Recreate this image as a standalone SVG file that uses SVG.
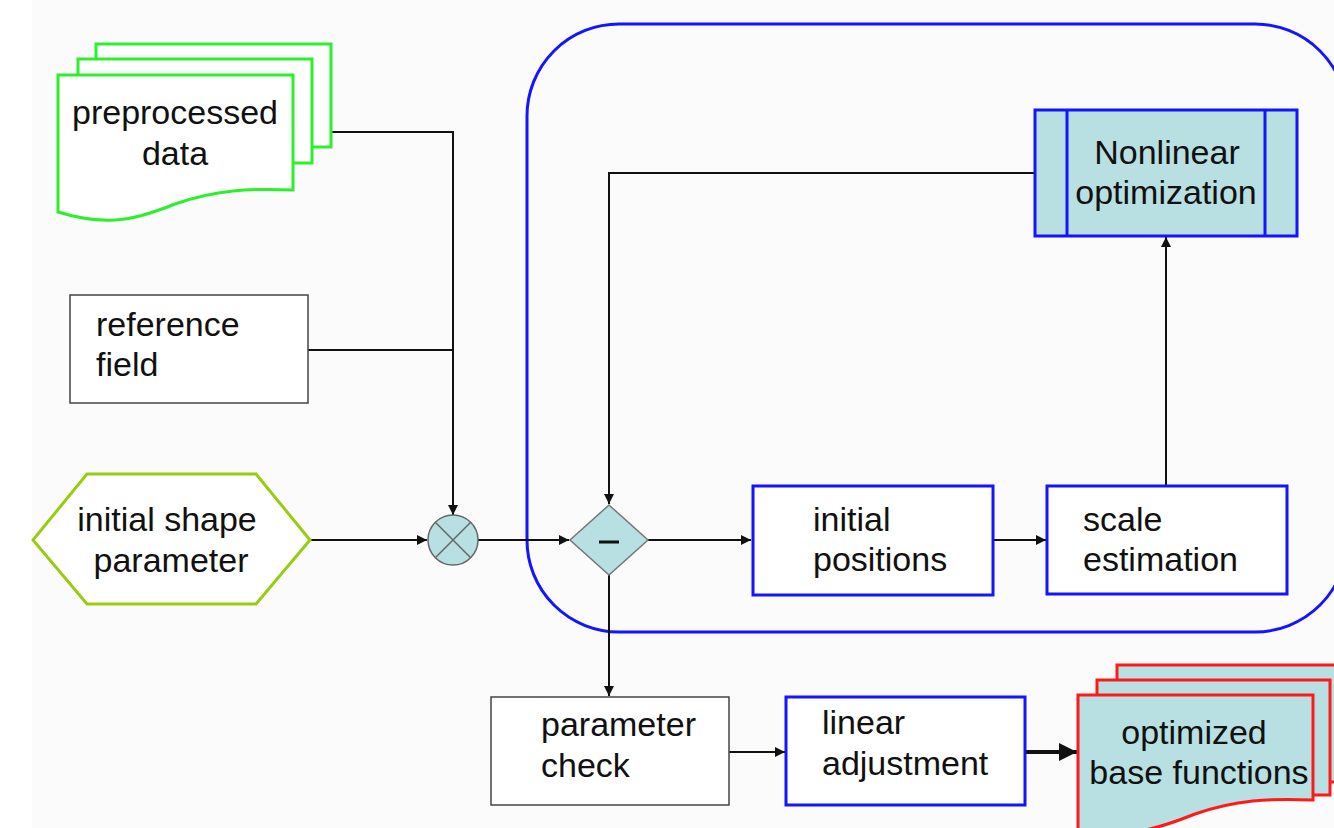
<svg xmlns="http://www.w3.org/2000/svg" width="1334" height="828" viewBox="0 0 1334 828">
<defs>
<style>
text{font-family:"Liberation Sans",Arial,sans-serif;font-size:34px;fill:#111}
.c{text-anchor:middle}
.ln{fill:none;stroke:#111;stroke-width:2}
.thick{fill:none;stroke:#111;stroke-width:4}
.blue{fill:#fff;stroke:#1414ff;stroke-width:3}
.grey{fill:#fff;stroke:#444;stroke-width:1.5}
.teal{fill:#b8dfe1}
.green{fill:#fff;stroke:#2cf02c;stroke-width:3}
.red{fill:#b8dfe1;stroke:#ff1a1a;stroke-width:3}
</style>
<marker id="ah" viewBox="0 0 10 10" refX="10" refY="5" markerWidth="11" markerHeight="10" markerUnits="userSpaceOnUse" orient="auto">
<path d="M0,0 L10,5 L0,10 Z" fill="#111"/>
</marker>
<marker id="ahb" viewBox="0 0 10 10" refX="10" refY="5" markerWidth="20" markerHeight="18" markerUnits="userSpaceOnUse" orient="auto">
<path d="M0,0 L10,5 L0,10 Z" fill="#111"/>
</marker>
</defs>
<rect x="0" y="0" width="1334" height="828" fill="#fff"/>
<rect x="32" y="0" width="1302" height="828" fill="#fbfbfb"/>

<g id="loop">
<rect x="527" y="24" width="820" height="608" rx="92" ry="92" fill="none" stroke="#1414ff" stroke-width="3"/>
</g>

<g id="connectors">
<polyline class="ln" points="331,132 453,132 453,515" marker-end="url(#ah)"/>
<line class="ln" x1="308" y1="350" x2="453" y2="350"/>
<line class="ln" x1="310" y1="540" x2="427" y2="540" marker-end="url(#ah)"/>
<line class="ln" x1="478" y1="540" x2="569" y2="540" marker-end="url(#ah)"/>
<polyline class="ln" points="1035,173 609,173 609,504" marker-end="url(#ah)"/>
<line class="ln" x1="648" y1="540" x2="751" y2="540" marker-end="url(#ah)"/>
<line class="ln" x1="993" y1="540" x2="1046" y2="540" marker-end="url(#ah)"/>
<line class="ln" x1="1166" y1="486" x2="1166" y2="237" marker-end="url(#ah)"/>
<line class="ln" x1="609" y1="575" x2="609" y2="696" marker-end="url(#ah)"/>
<line class="ln" x1="729" y1="752" x2="785" y2="752" marker-end="url(#ah)"/>
<line class="thick" x1="1025" y1="752" x2="1077" y2="752" marker-end="url(#ahb)"/>
</g>

<g id="preprocessed-data">
<path class="green" d="M96,44 H331 V147 H96 Z"/>
<path class="green" d="M78,59 H312 V163 H78 Z"/>
<path class="green" d="M58,75 H293 V190 C250,188 215,190 175,204 C140,218 110,228 58,212 Z"/>
<text class="c" x="175" y="124">preprocessed</text>
<text class="c" x="175" y="165">data</text>
</g>

<g id="reference-field">
<rect class="grey" x="70" y="295" width="238" height="108"/>
<text x="96" y="336">reference</text>
<text x="96" y="376">field</text>
</g>

<g id="initial-shape-parameter">
<polygon points="33,540 87,474 256,474 310,540 256,604 87,604" fill="#fff" stroke="#99cc11" stroke-width="3"/>
<text class="c" x="167" y="531">initial shape</text>
<text class="c" x="171" y="572">parameter</text>
</g>

<g id="combine">
<circle cx="453" cy="540" r="25" class="teal" stroke="#666" stroke-width="1.5"/>
<path d="M435.3,522.3 L470.7,557.7 M470.7,522.3 L435.3,557.7" stroke="#666" stroke-width="1.5"/>
</g>

<g id="difference">
<polygon points="609,505 648,540 609,575 570,540" class="teal" stroke="#777" stroke-width="1.5"/>
<line x1="599" y1="542" x2="619" y2="542" stroke="#111" stroke-width="3"/>
</g>

<g id="initial-positions">
<rect class="blue" x="753" y="486" width="240" height="109"/>
<text x="813" y="531">initial</text>
<text x="813" y="571">positions</text>
</g>

<g id="scale-estimation">
<rect class="blue" x="1047" y="486" width="240" height="108"/>
<text x="1083" y="531">scale</text>
<text x="1083" y="571">estimation</text>
</g>

<g id="nonlinear-optimization">
<rect x="1035" y="110" width="262" height="126" class="teal" stroke="#1414ff" stroke-width="3"/>
<line x1="1067" y1="110" x2="1067" y2="236" stroke="#1414ff" stroke-width="3"/>
<line x1="1265" y1="110" x2="1265" y2="236" stroke="#1414ff" stroke-width="3"/>
<text class="c" x="1167" y="164">Nonlinear</text>
<text class="c" x="1166" y="204">optimization</text>
</g>

<g id="parameter-check">
<rect class="grey" x="491" y="697" width="238" height="108"/>
<text x="541" y="736">parameter</text>
<text x="541" y="777">check</text>
</g>

<g id="linear-adjustment">
<rect class="blue" x="786" y="697" width="239" height="108"/>
<text x="822" y="734">linear</text>
<text x="822" y="775">adjustment</text>
</g>

<g id="optimized-base-functions">
<path class="red" d="M1117,665 H1352 V782 H1117 Z"/>
<path class="red" d="M1097,680 H1330 V795 H1097 Z"/>
<path class="red" d="M1078,695 H1313 V800 C1270,798 1235,800 1195,814 C1160,828 1130,838 1078,832 Z"/>
<text class="c" x="1194" y="744">optimized</text>
<text class="c" x="1199" y="784">base functions</text>
</g>
</svg>
